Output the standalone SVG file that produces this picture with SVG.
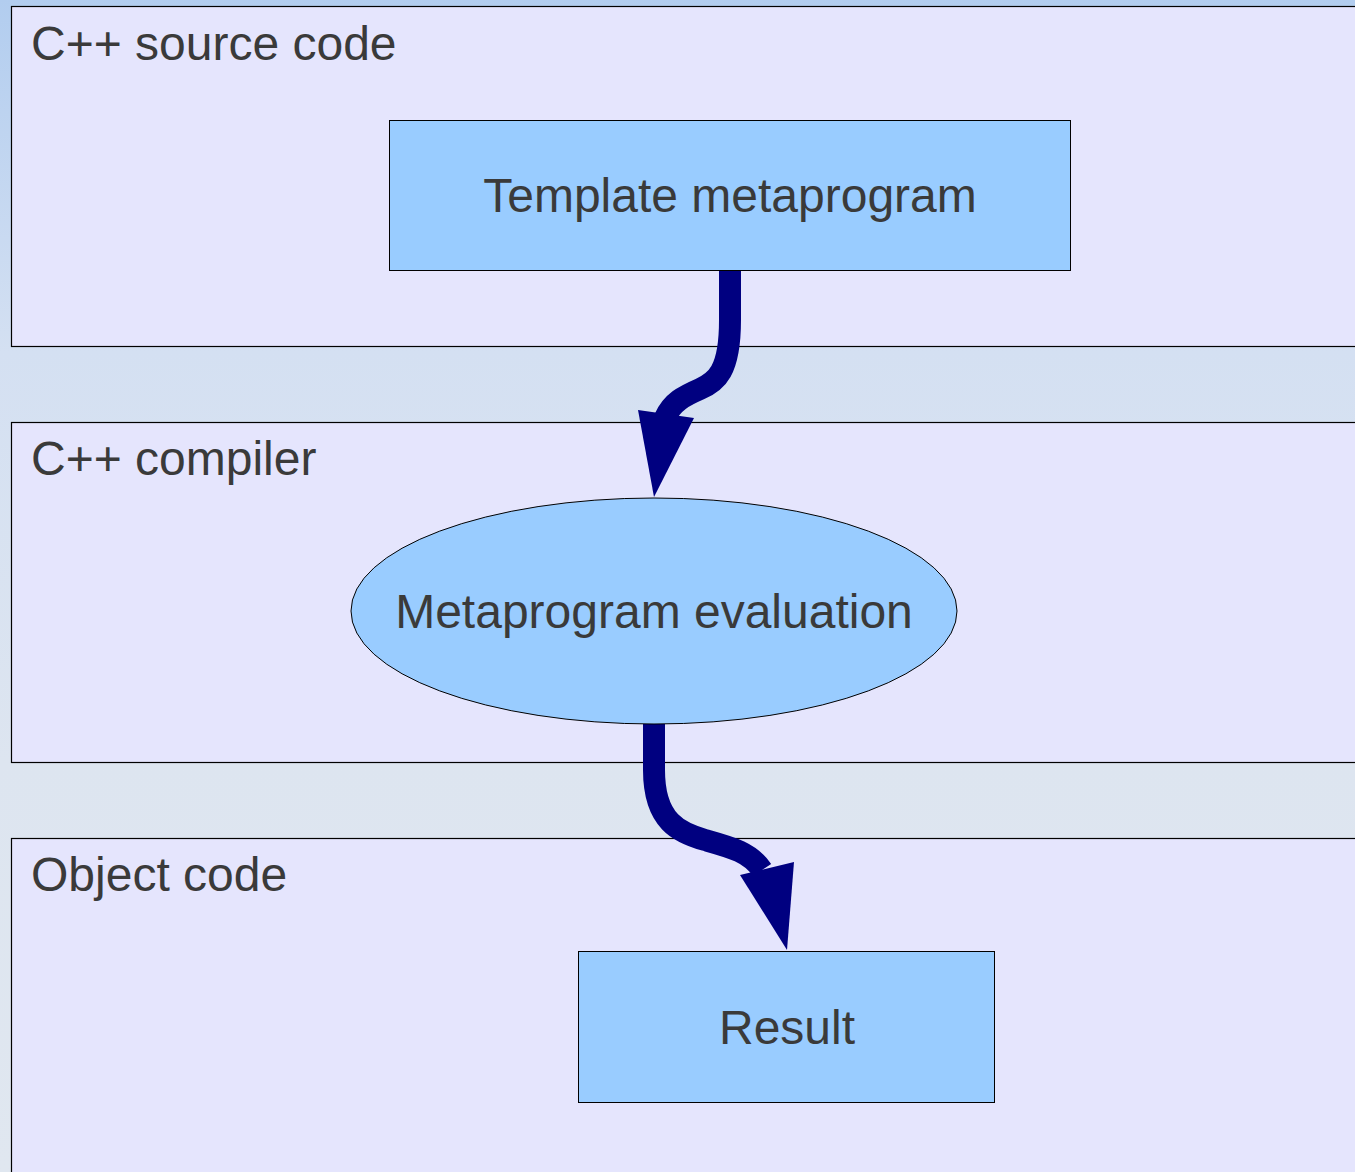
<svg xmlns="http://www.w3.org/2000/svg" width="1355" height="1172" viewBox="0 0 1355 1172">
<defs>
<linearGradient id="bg" x1="0" y1="0" x2="0" y2="1">
<stop offset="0" stop-color="#b2cdef"/>
<stop offset="0.3" stop-color="#d4e0f2"/>
<stop offset="0.65" stop-color="#dde5f0"/>
<stop offset="1" stop-color="#e0e7f0"/>
</linearGradient>
<style>
.panel{fill:#e5e5fd;stroke:#000;stroke-width:1.2}
.node{fill:#99ccff;stroke:#000;stroke-width:1}
.lbl{font-family:"Liberation Sans",Arial,sans-serif;font-size:48px;fill:#3a3a3a}
.shaft{fill:none;stroke:#000080;stroke-width:22}
.head{fill:#000080}
</style>
</defs>
<rect x="0" y="0" width="1355" height="1172" fill="url(#bg)"/>
<g id="panel-source">
<rect class="panel" x="11.5" y="6.5" width="1360" height="340"/>
<text class="lbl" x="31" y="60">C++ source code</text>
</g>
<g id="panel-compiler">
<rect class="panel" x="11.5" y="422.5" width="1360" height="340"/>
<text class="lbl" x="31" y="475">C++ compiler</text>
</g>
<g id="panel-object">
<rect class="panel" x="11.5" y="838.5" width="1360" height="360"/>
<text class="lbl" x="31" y="891">Object code</text>
</g>
<g id="connectors">
<path class="shaft" d="M730,271 L730,320 C730,372 716,382 700,389 C684,396 672,402 665,418"/>
<polygon class="head" points="638,410 694,418 654,497"/>
<path class="shaft" d="M654,724 L654,770 C654,822 680,833 705,840 C730,847 750,852 762,870"/>
<polygon class="head" points="740,875 794,862 787,950"/>
</g>
<g id="node-template">
<rect class="node" x="389.5" y="120.5" width="681" height="150"/>
<text class="lbl" x="730" y="212" text-anchor="middle">Template metaprogram</text>
</g>
<g id="node-eval">
<ellipse class="node" cx="654" cy="611" rx="303" ry="113"/>
<text class="lbl" x="654" y="628" text-anchor="middle">Metaprogram evaluation</text>
</g>
<g id="node-result">
<rect class="node" x="578.5" y="951.5" width="416" height="151"/>
<text class="lbl" x="787" y="1044" text-anchor="middle">Result</text>
</g>
</svg>
